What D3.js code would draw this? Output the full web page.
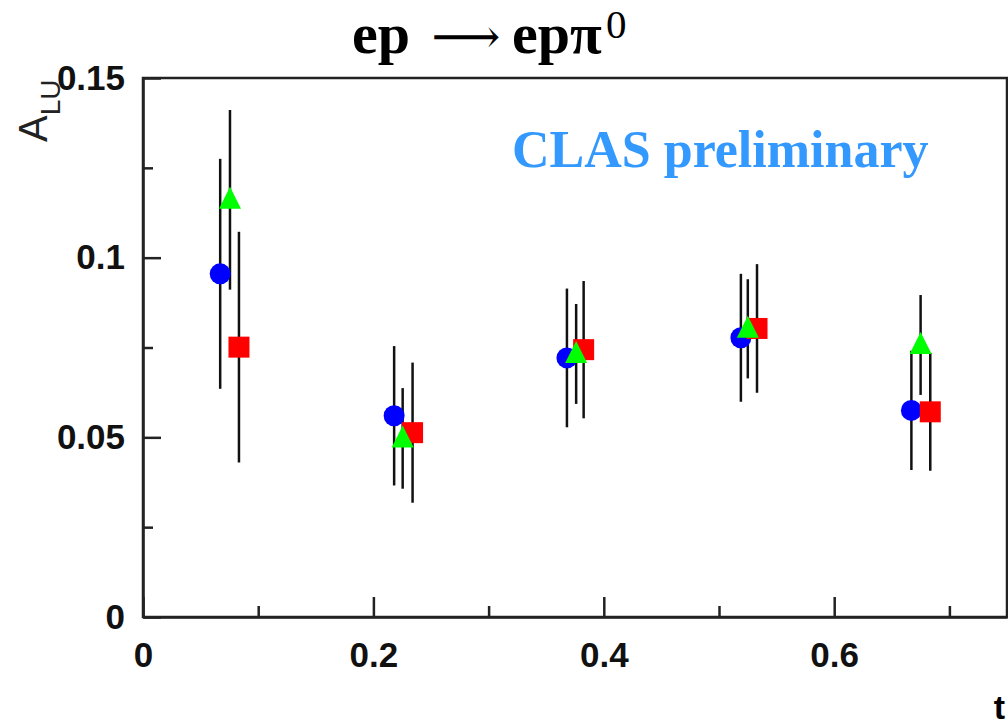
<!DOCTYPE html>
<html>
<head>
<meta charset="utf-8">
<script src="https://cdn.jsdelivr.net/npm/d3@7"></script>
<style>
  body { margin: 0; background: #fff; }
  .tick text { font-family: "Liberation Sans", Arial, sans-serif; font-weight: bold; font-size: 35px; fill: #111; }
  .tick line, .domain { stroke: #222; stroke-width: 2.5; }
</style>
</head>
<body>
<script>
// values (t, A_LU, error)
var tCircle = [0.067, 0.218, 0.368, 0.519, 0.667];
var aCircle = [0.0955, 0.056, 0.0721, 0.0777, 0.0575];
var eCircle = [0.032, 0.0194, 0.0193, 0.0178, 0.0166];

var tTriangle = [0.0755, 0.2254, 0.376, 0.525, 0.675];
var aTriangle = [0.1161, 0.0497, 0.0732, 0.0802, 0.0757];
var eTriangle = [0.025, 0.014, 0.0139, 0.0138, 0.0139];

var tSquare = [0.0833, 0.234, 0.3825, 0.533, 0.6834];
var aSquare = [0.0751, 0.0513, 0.0744, 0.0803, 0.0571];
var eSquare = [0.0321, 0.0195, 0.0191, 0.0179, 0.0164];

var xTicks = [0, 0.2, 0.4, 0.6];
var xMinor = [0.1, 0.3, 0.5, 0.7];
var yTicks = [0, 0.05, 0.1, 0.15];
var yMinor = [0.025, 0.075, 0.125];

var WIDTH = 1008, HEIGHT = 726;
var LEFT = 143, RIGHT = 1007, TOP = 78, BOTTOM = 617;

var translate = function (x, y) {
  return "translate(" + x + "," + y + ")";
};

var zip = function (t, a, e) {
  return t.map(function (d, i) { return {t: d, a: a[i], e: e[i]}; });
};

// draw order: blue, red, green (green ends up on top)
var series = [
  {points: zip(tCircle, aCircle, eCircle), color: "#0000ff", shape: "circle"},
  {points: zip(tSquare, aSquare, eSquare), color: "#ff0000", shape: "square"},
  {points: zip(tTriangle, aTriangle, eTriangle), color: "#00ff00", shape: "triangle"}
];

var xScale = d3.scaleLinear().domain([0, 0.75]).range([LEFT, RIGHT]);
var yScale = d3.scaleLinear().domain([0, 0.15]).range([BOTTOM, TOP]);

var svg = d3.select("body").append("svg")
  .attr("width", WIDTH)
  .attr("height", HEIGHT);

// axes with inward ticks
svg.append("g")
  .attr("transform", translate(0, BOTTOM))
  .call(d3.axisBottom(xScale).tickValues(xTicks).tickSizeInner(-20).tickSizeOuter(0)
    .tickPadding(25).tickFormat(d3.format("~g")));

svg.append("g")
  .attr("transform", translate(0, BOTTOM))
  .call(d3.axisBottom(xScale).tickValues(xMinor).tickSizeInner(-11).tickSizeOuter(0).tickFormat(""))
  .select(".domain").remove();

svg.append("g")
  .attr("transform", translate(LEFT, 0))
  .call(d3.axisLeft(yScale).tickValues(yTicks).tickSizeInner(-18).tickSizeOuter(0)
    .tickPadding(18).tickFormat(d3.format("~g")));

svg.append("g")
  .attr("transform", translate(LEFT, 0))
  .call(d3.axisLeft(yScale).tickValues(yMinor).tickSizeInner(-10).tickSizeOuter(0).tickFormat(""))
  .select(".domain").remove();

// frame
svg.append("rect")
  .attr("x", LEFT).attr("y", TOP)
  .attr("width", RIGHT - LEFT).attr("height", BOTTOM - TOP)
  .attr("fill", "none").attr("stroke", "#222").attr("stroke-width", 2.5);

// error bars first
series.forEach(function (s) {
  svg.append("g").selectAll("line")
    .data(s.points)
    .enter()
    .append("line")
    .attr("x1", function (p) { return xScale(p.t); })
    .attr("x2", function (p) { return xScale(p.t); })
    .attr("y1", function (p) { return yScale(p.a + p.e); })
    .attr("y2", function (p) { return yScale(p.a - p.e); })
    .attr("stroke", "#111")
    .attr("stroke-width", 2.5);
});

var markerPath = {
  circle: d3.symbol().type(d3.symbolCircle).size(Math.PI * 10.5 * 10.5),
  square: function () { return "M-10.5,-10.5H10.5V10.5H-10.5Z"; },
  triangle: function () { return "M0,-13L11,9L-11,9Z"; }
};

series.forEach(function (s) {
  svg.append("g").selectAll("path")
    .data(s.points)
    .enter()
    .append("path")
    .attr("d", markerPath[s.shape])
    .attr("transform", function (p) { return translate(xScale(p.t), yScale(p.a)); })
    .attr("fill", s.color);
});

// axis titles
svg.append("text")
  .attr("x", 1005).attr("y", 719)
  .attr("text-anchor", "end")
  .style("font-family", "Liberation Sans, Arial, sans-serif")
  .style("font-weight", "bold")
  .style("font-size", "34px")
  .text("t");

var yTitle = svg.append("text")
  .attr("transform", translate(47, 142) + " rotate(-90)")
  .style("font-family", "Liberation Sans, Arial, sans-serif")
  .style("fill", "#222");
yTitle.append("tspan").style("font-size", "40px").text("A");
yTitle.append("tspan").attr("dy", 13).style("font-size", "28px").text("LU");

// title: ep -> ep pi^0
var title = svg.append("text")
  .attr("y", 53)
  .style("font-family", "Liberation Serif, Times New Roman, serif")
  .style("font-weight", "bold")
  .style("font-size", "58px");
title.append("tspan").attr("x", 352).text("ep");
title.append("tspan").attr("x", 512).text("ep\u03c0");
title.append("tspan").attr("x", 606).attr("dy", -15)
  .style("font-weight", "normal")
  .style("font-size", "41px").text("0");

svg.append("text")
  .attr("x", 466).attr("y", 53)
  .attr("text-anchor", "middle")
  .style("font-family", "DejaVu Serif, serif")
  .style("font-size", "48px")
  .text("\u27f6");

svg.append("text")
  .attr("x", 512).attr("y", 167)
  .style("font-family", "Liberation Serif, Times New Roman, serif")
  .style("font-weight", "bold")
  .style("font-size", "52px")
  .attr("fill", "#3399ff")
  .text("CLAS preliminary");
</script>
</body>
</html>
